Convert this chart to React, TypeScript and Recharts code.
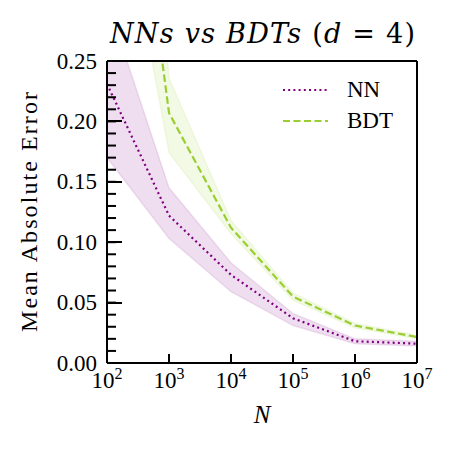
import { Area, ComposedChart, Legend, Line, Scatter, XAxis, YAxis } from 'recharts'

// training sample sizes
const sampleSizes = [1e2, 1e3, 1e4, 1e5, 1e6, 1e7]

// neural network: mean and spread
const nnMean = [0.231, 0.122, 0.073, 0.037, 0.018, 0.016]
const nnLow = [0.17, 0.103, 0.059, 0.031, 0.016, 0.014]
const nnHigh = [0.3, 0.145, 0.083, 0.041, 0.02, 0.018]

// boosted decision tree: mean and spread
const bdtMean = [0.6, 0.207, 0.112, 0.055, 0.031, 0.0215]
const bdtLow = [0.45, 0.174, 0.107, 0.052, 0.029, 0.02]
const bdtHigh = [0.9, 0.236, 0.118, 0.058, 0.033, 0.023]

const xTicks = [1e2, 1e3, 1e4, 1e5, 1e6, 1e7]
const yTicks = [
  0, 0.01, 0.02, 0.03, 0.04, 0.05, 0.06, 0.07, 0.08, 0.09, 0.1, 0.11, 0.12, 0.13, 0.14, 0.15, 0.16,
  0.17, 0.18, 0.19, 0.2, 0.21, 0.22, 0.23, 0.24, 0.25,
]
const xDomain = [1e2, 1e7]
const yDomain = [0, 0.25]

const NN_COLOR = '#800080'
const BDT_COLOR = '#9acd32'
const FONT = 'Liberation Serif'
const TITLE_FONT = 'DejaVu Serif'

const chartData = sampleSizes.map((n, i) => ({
  n,
  nn: nnMean[i],
  nnBand: [nnLow[i], nnHigh[i]],
  bdt: bdtMean[i],
  bdtBand: [bdtLow[i], bdtHigh[i]],
}))

// anchor points on the left spine for the longer major y ticks
const yTickMarks = yTicks.map((v) => ({ n: xDomain[0], tick: v }))

const isMajor = (v: number) => Math.round(v * 100) % 5 === 0

// eslint-disable-next-line @typescript-eslint/no-explicit-any
function YTick({ x, y, payload }: any) {
  const v = payload.value as number
  if (!isMajor(v)) return <g />
  return (
    <text x={x - 10} y={y} textAnchor="end" dominantBaseline="central" fontFamily={FONT} fontSize={23} fill="#000">
      {v.toFixed(2)}
    </text>
  )
}

function EmptyTick() {
  return <g />
}

// eslint-disable-next-line @typescript-eslint/no-explicit-any
function TickMark({ cx, cy, payload }: any) {
  if (!isMajor(payload.tick)) return <g />
  return <rect x={Math.round(cx)} y={Math.round(cy) - 1} width={15} height={2} fill="#000" />
}

// eslint-disable-next-line @typescript-eslint/no-explicit-any
function XTick({ x, y, payload }: any) {
  const exp = Math.round(Math.log10(payload.value))
  return (
    <g>
      <rect x={Math.round(x) - 1} y={y - 9} width={2} height={9} fill="#000" />
      <text x={x} y={y + 25} textAnchor="middle" fontFamily={FONT} fontSize={23} fill="#000">
        10
        <tspan dy={-9} fontSize={16}>
          {exp}
        </tspan>
      </text>
    </g>
  )
}

function LegendBox() {
  const rows = [
    { name: 'NN', color: NN_COLOR, dash: '2 3.2' },
    { name: 'BDT', color: BDT_COLOR, dash: '7 3.5' },
  ]
  return (
    <div style={{ fontFamily: FONT, fontSize: 23, lineHeight: '31px', color: '#000' }}>
      {rows.map((r) => (
        <div key={r.name} style={{ display: 'flex', alignItems: 'center', height: 31 }}>
          <svg width={46} height={10}>
            <line x1={0} y1={5} x2={45} y2={5} stroke={r.color} strokeWidth={2.2} strokeDasharray={r.dash} />
          </svg>
          <span style={{ marginLeft: 18 }}>{r.name}</span>
        </div>
      ))}
    </div>
  )
}

export default function App() {
  return (
    <div style={{ position: 'absolute', left: 0, top: 0, background: '#fff' }}>
      <ComposedChart width={454} height={449} data={chartData} margin={{ top: 60, right: 36, left: 0, bottom: 0 }}>
        <XAxis
          dataKey="n"
          type="number"
          scale="log"
          domain={xDomain}
          ticks={xTicks}
          allowDataOverflow
          height={86}
          axisLine={{ stroke: '#000', strokeWidth: 2 }}
          tickLine={false}
          tickSize={0}
          tickMargin={0}
          tick={<XTick />}
          interval={0}
          label={{
            // eslint-disable-next-line @typescript-eslint/no-explicit-any
            content: ({ viewBox }: any) => (
              <text
                x={viewBox.x + viewBox.width / 2}
                y={viewBox.y + 60}
                textAnchor="middle"
                fontFamily={FONT}
                fontStyle="italic"
                fontSize={25}
                fill="#000"
              >
                N
              </text>
            ),
          }}
        />
        <XAxis
          xAxisId="top"
          orientation="top"
          dataKey="n"
          type="number"
          scale="log"
          domain={xDomain}
          allowDataOverflow
          height={1}
          tick={false}
          tickLine={false}
          axisLine={{ stroke: '#000', strokeWidth: 2 }}
          label={{
            content: () => (
              <text x={110} y={43} textLength={305} lengthAdjust="spacing" fontFamily={TITLE_FONT} fontSize={27} fill="#000">
                <tspan fontStyle="italic">NNs vs BDTs </tspan>
                <tspan>(</tspan>
                <tspan fontStyle="italic">d</tspan>
                <tspan> = 4)</tspan>
              </text>
            ),
          }}
        />
        <YAxis
          type="number"
          domain={yDomain}
          ticks={yTicks}
          allowDataOverflow
          width={107}
          interval={0}
          axisLine={{ stroke: '#000', strokeWidth: 2 }}
          tickLine={false}
          tickSize={0}
          tickMargin={0}
          tick={<YTick />}
          label={{
            // eslint-disable-next-line @typescript-eslint/no-explicit-any
            content: ({ viewBox }: any) => {
              const cy = viewBox.y + viewBox.height / 2
              return (
                <text
                  x={37}
                  y={cy}
                  transform={`rotate(-90 37 ${cy})`}
                  textAnchor="middle"
                  textLength={240}
                  lengthAdjust="spacing"
                  fontFamily={FONT}
                  fontSize={24}
                  fill="#000"
                >
                  Mean Absolute Error
                </text>
              )
            },
          }}
        />
        {/* mirrored copy of the y axis: its tick lines point into the plot */}
        <YAxis
          yAxisId="inner"
          orientation="left"
          mirror
          type="number"
          domain={yDomain}
          ticks={yTicks}
          allowDataOverflow
          width={1}
          interval={0}
          axisLine={false}
          tickLine={{ stroke: '#000', strokeWidth: 2 }}
          tickSize={9}
          tick={<EmptyTick />}
        />
        <YAxis
          yAxisId="right"
          orientation="right"
          type="number"
          domain={yDomain}
          allowDataOverflow
          width={1}
          tick={false}
          tickLine={false}
          axisLine={{ stroke: '#000', strokeWidth: 2 }}
        />
        <Legend
          layout="horizontal"
          verticalAlign="middle"
          align="center"
          content={<LegendBox />}
          wrapperStyle={{ position: 'absolute', left: 283, top: 74, width: 'auto', height: 'auto' }}
        />
        <Area
          dataKey="nnBand"
          type="linear"
          fill={NN_COLOR}
          fillOpacity={0.13}
          stroke={NN_COLOR}
          strokeOpacity={0.1}
          strokeWidth={1.5}
          isAnimationActive={false}
          legendType="none"
          activeDot={false}
        />
        <Area
          dataKey="bdtBand"
          type="linear"
          fill={BDT_COLOR}
          fillOpacity={0.13}
          stroke={BDT_COLOR}
          strokeOpacity={0.1}
          strokeWidth={1.5}
          isAnimationActive={false}
          legendType="none"
          activeDot={false}
        />
        <Line
          dataKey="nn"
          name="NN"
          type="linear"
          stroke={NN_COLOR}
          strokeWidth={2.2}
          strokeDasharray="2 3.2"
          dot={false}
          isAnimationActive={false}
        />
        <Line
          dataKey="bdt"
          name="BDT"
          type="linear"
          stroke={BDT_COLOR}
          strokeWidth={2.2}
          strokeDasharray="7.5 3.5"
          dot={false}
          isAnimationActive={false}
        />
        <Scatter
          data={yTickMarks}
          dataKey="tick"
          shape={<TickMark />}
          legendType="none"
          isAnimationActive={false}
        />
        {/* invisible series so the frame axes and the mirrored tick axis get drawn */}
        <Line
          xAxisId="top"
          yAxisId="right"
          dataKey="nn"
          stroke="none"
          dot={false}
          activeDot={false}
          legendType="none"
          isAnimationActive={false}
        />
        <Line
          yAxisId="inner"
          dataKey="nn"
          stroke="none"
          dot={false}
          activeDot={false}
          legendType="none"
          isAnimationActive={false}
        />
      </ComposedChart>
    </div>
  )
}
